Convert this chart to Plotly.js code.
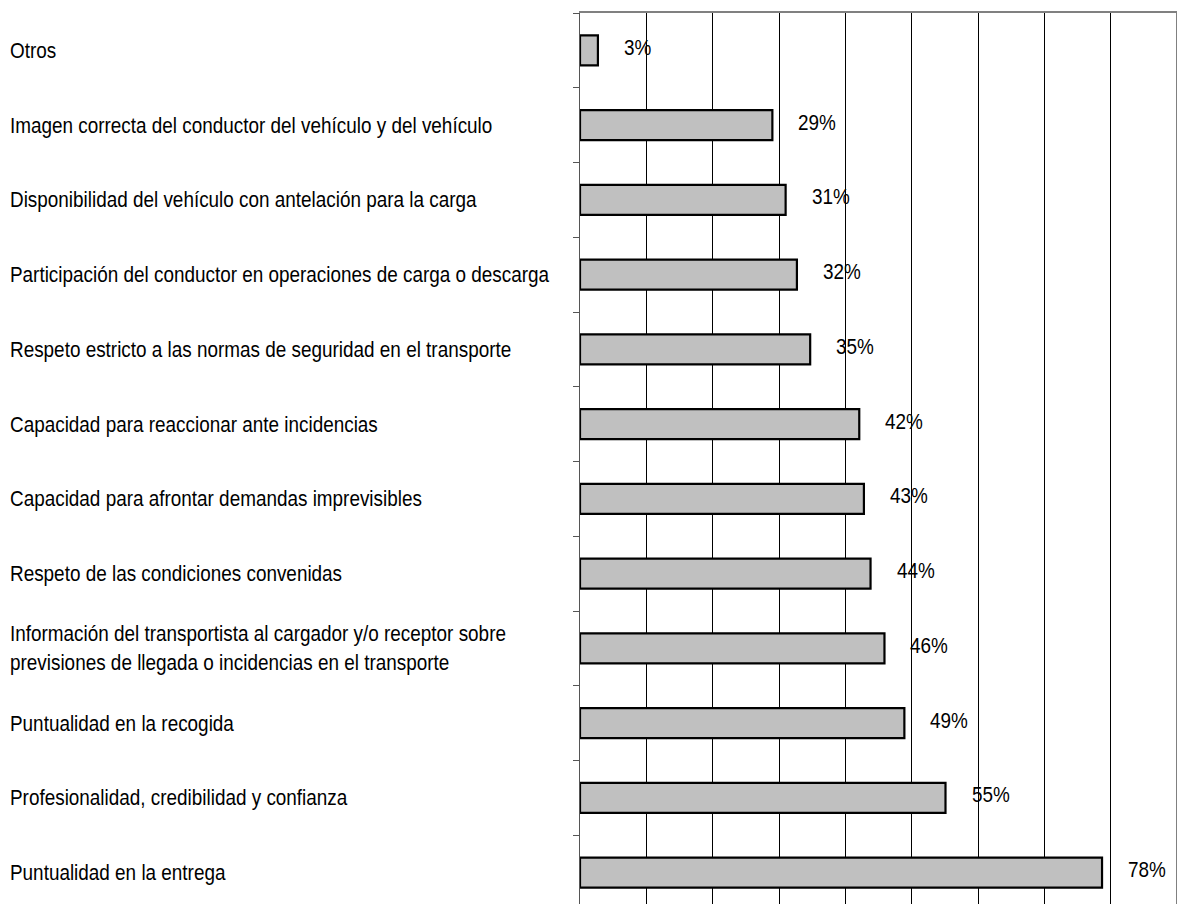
<!DOCTYPE html>
<html>
<head>
<meta charset="utf-8">
<script src="https://cdn.plot.ly/plotly-3.0.1.min.js"></script>
<style>
html,body{margin:0;padding:0;overflow:hidden;background:#fff;}
#chart{width:1180px;height:920px;}
</style>
</head>
<body>
<div id="chart"></div>
<script>
// Categories listed top to bottom
const categories = [
  "Otros",
  "Imagen correcta del conductor del vehículo y del vehículo",
  "Disponibilidad del vehículo con antelación para la carga",
  "Participación del conductor en operaciones de carga o descarga",
  "Respeto estricto a las normas de seguridad en el transporte",
  "Capacidad para reaccionar ante incidencias",
  "Capacidad para afrontar demandas imprevisibles",
  "Respeto de las condiciones convenidas",
  "Información del transportista al cargador y/o receptor sobre<br>previsiones de llegada o incidencias en el transporte",
  "Puntualidad en la recogida",
  "Profesionalidad, credibilidad y confianza",
  "Puntualidad en la entrega"
];
// Bar lengths (percent)
const values = [2.7, 29, 31, 32.7, 34.7, 42.1, 42.8, 43.8, 45.9, 48.9, 55.1, 78.7];
// Value labels as printed
const valueLabels = ["3%", "29%", "31%", "32%", "35%", "42%", "43%", "44%", "46%", "49%", "55%", "78%"];
const xTicks = [0, 10, 20, 30, 40, 50, 60, 70, 80, 90];

const FONT = '"Liberation Sans", Arial, sans-serif';
const ids = categories.map((c, i) => "c" + i);

const trace = {
  type: "bar",
  orientation: "h",
  x: values,
  y: ids,
  marker: { color: "#c0c0c0", line: { color: "#000000", width: 2.2 } },
  hoverinfo: "skip"
};

const annotations = [];
categories.forEach((c, i) => {
  annotations.push({
    xref: "paper", yref: "y", x: -572 / 597, y: ids[i],
    xanchor: "left", yanchor: "middle", align: "left",
    text: c, showarrow: false,
    font: { family: FONT, size: 22, color: "#000" }
  });
  annotations.push({
    xref: "x", yref: "y", x: values[i], y: ids[i],
    xanchor: "left", yanchor: "middle", xshift: 24, yshift: 3,
    text: valueLabels[i], showarrow: false,
    font: { family: FONT, size: 22, color: "#000" }
  });
});

const layout = {
  width: 1180, height: 920,
  margin: { l: 580, r: 3, t: 13, b: 10, pad: 0 },
  paper_bgcolor: "#fff", plot_bgcolor: "#fff",
  showlegend: false,
  bargap: 0.6,
  xaxis: {
    range: [0, 90], tickvals: xTicks, showticklabels: false,
    showgrid: true, gridcolor: "#000", gridwidth: 1,
    zeroline: false, showline: true, mirror: true, linecolor: "#808080", linewidth: 2,
    ticks: "", fixedrange: true
  },
  yaxis: {
    type: "category", autorange: "reversed",
    showticklabels: false, showgrid: false, zeroline: false,
    showline: true, linecolor: "#555", linewidth: 1.5,
    ticks: "outside", tickson: "boundaries", ticklen: 6, tickcolor: "#555", tickwidth: 1,
    fixedrange: true
  },
  shapes: [{
    type: "line", xref: "x", yref: "paper", x0: 90, x1: 90, y0: 0, y1: 1,
    line: { color: "#808080", width: 2 }, layer: "above"
  }],
  annotations: annotations
};

Plotly.newPlot("chart", [trace], layout, { displayModeBar: false, staticPlot: true }).then(function () {
  // Condense the text horizontally (narrow typeface look), keeping left edges in place
  const sx = 0.86;
  document.querySelectorAll("#chart .annotation-text").forEach(function (t) {
    const b = t.getBBox();
    t.setAttribute("transform", "translate(" + (b.x * (1 - sx)) + " 0) scale(" + sx + " 1)");
  });
});
</script>
</body>
</html>
